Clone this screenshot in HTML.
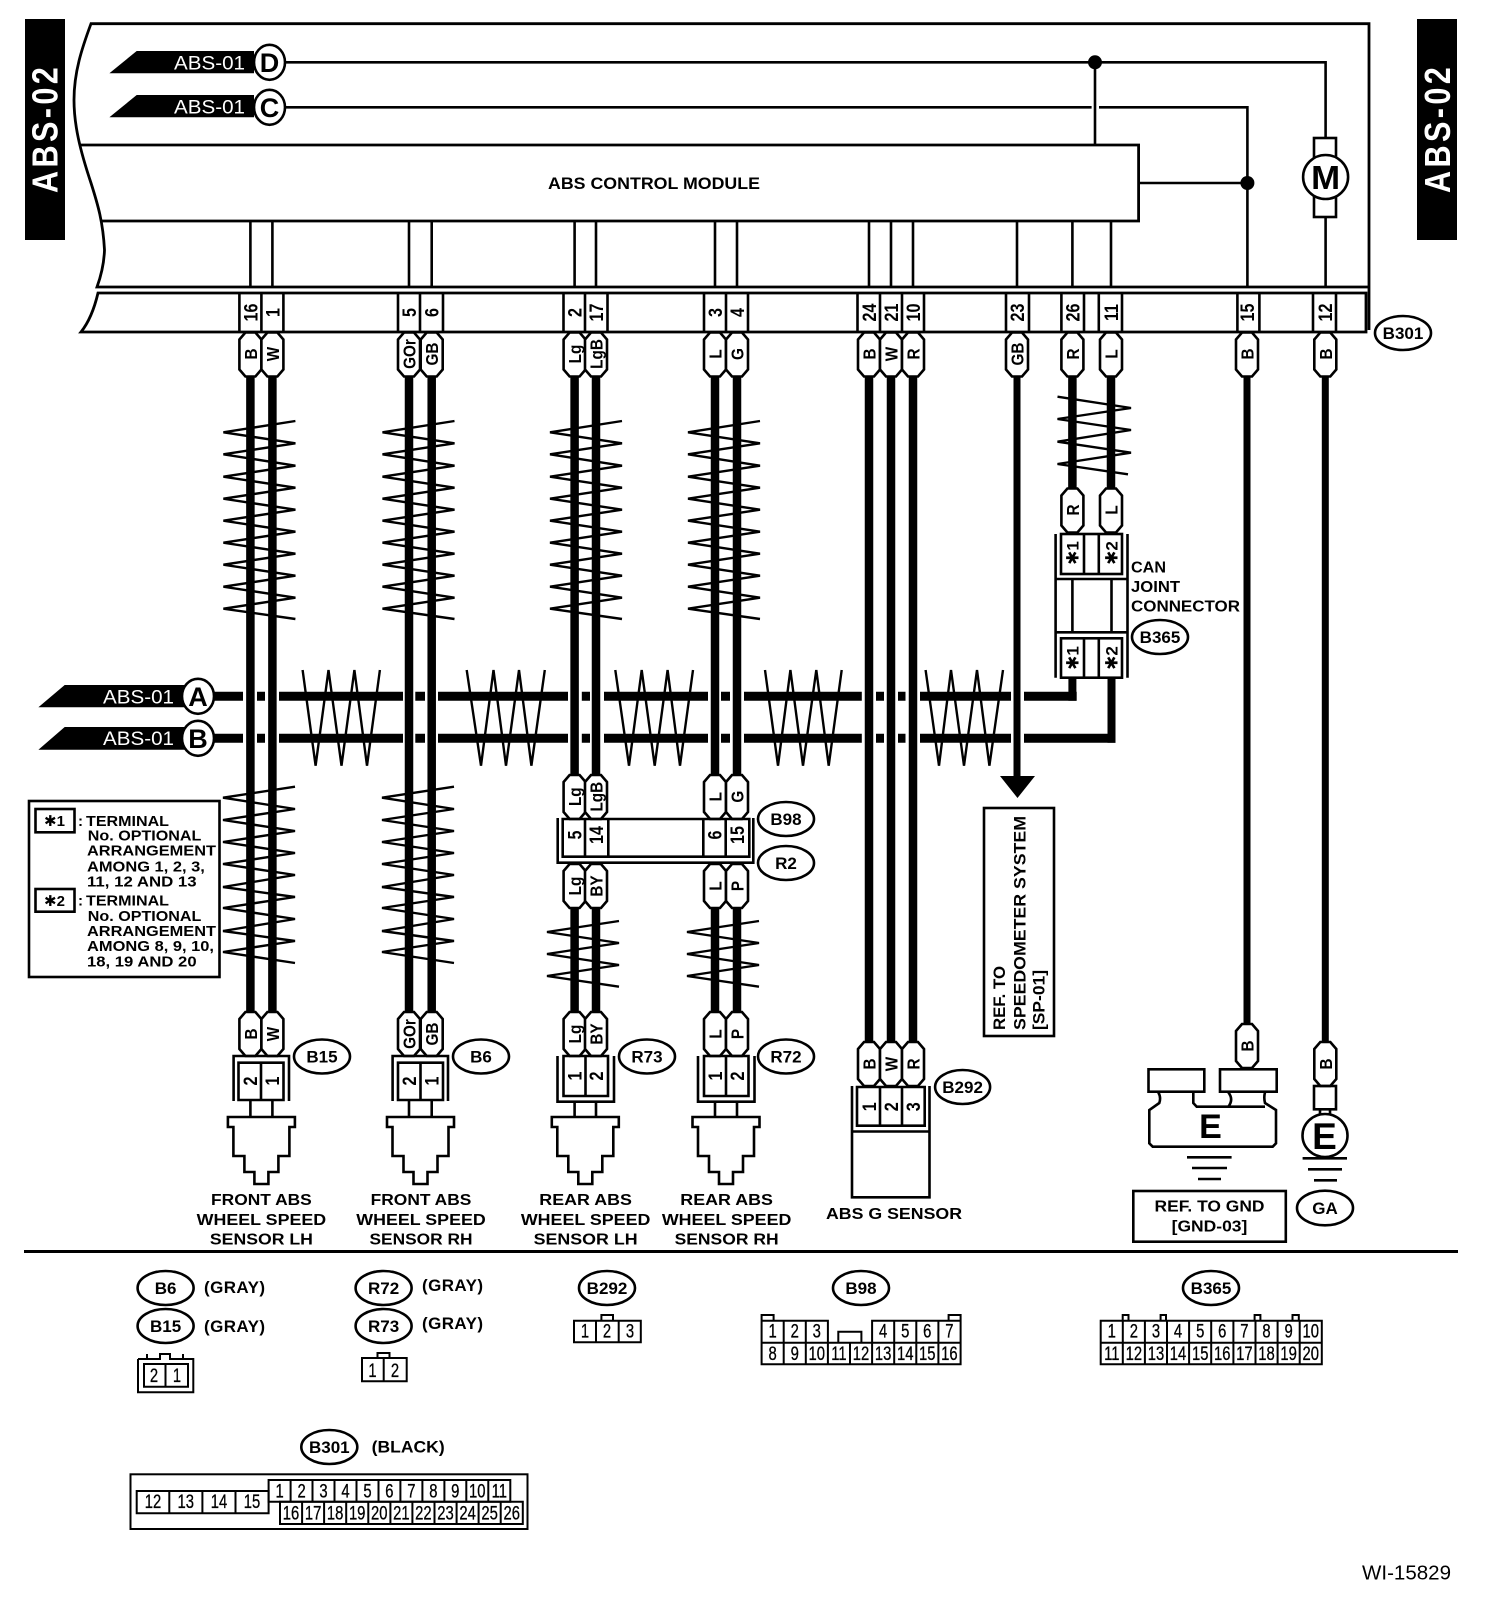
<!DOCTYPE html>
<html lang="en"><head><meta charset="utf-8"><title>ABS wiring diagram</title>
<style>
html,body{margin:0;padding:0;background:#fff}
svg{display:block;font-family:"Liberation Sans",sans-serif}
.l{fill:none;stroke:#000;stroke-width:2.6}
.s{fill:none;stroke:#000;stroke-width:2}
.o{fill:#fff;stroke:#000;stroke-width:2.6}
.t{fill:none;stroke:#000;stroke-width:2.4}
text{fill:#000}
.w{fill:#fff}
.b{font-weight:bold}
.m{text-anchor:middle}
.p{font-weight:bold;font-size:18px;text-anchor:middle}
.tn{font-weight:bold;font-size:19px;text-anchor:middle}
.ov{font-weight:bold;font-size:17px;text-anchor:middle}
.lb{font-weight:bold;font-size:16px;text-anchor:middle}
.lg{font-weight:bold;font-size:15px}
.g{font-weight:bold;font-size:17px}
.n{font-size:19px;text-anchor:middle;stroke:#000;stroke-width:.3;transform-box:fill-box;transform-origin:center;transform:scaleX(.78)}
.st{font-family:"DejaVu Sans",sans-serif}
</style></head><body>
<svg xmlns="http://www.w3.org/2000/svg" width="1504" height="1604" viewBox="0 0 1504 1604">
<defs>
<polyline id="t1" class="t" points="34,421 -38,432.3 34,443.3 -38,454.3 34,465.7 -38,476.7 34,487.7 -38,498.7 34,509.7 -38,520.7 34,531.7 -38,542.7 34,553.7 -38,564.7 34,575.7 -38,586.7 34,597.7 -38,608.7 34,619"/>
<polyline id="t2" class="t" points="34,786.7 -38,797.7 34,809 -38,820 34,831 -38,842 34,853 -38,864 34,875 -38,887 34,897 -38,908 34,919 -38,931 34,941 -38,952 34,963"/>
<polyline id="t3" class="t" points="36,921 -36,932 36,943 -36,954 36,965 -36,976 36,986.7"/>
<path id="pin" d="M-5,0 L5,0 L11,7 V37 L5,44 H-5 L-11,37 V7 Z" fill="#fff" stroke="#000" stroke-width="2.6"/>
<path id="sen" class="l" d="M-33.5,1117 H33.5 V1127 H28 V1156 H17 V1172 H7 V1184 H-7 V1172 H-17 V1156 H-28 V1127 H-33.5 Z"/>
</defs>

<!-- side tabs -->
<rect x="25" y="19" width="40" height="221" fill="#000"/>
<rect x="1417" y="19" width="40" height="221" fill="#000"/>
<text class="w b" font-size="36" letter-spacing="4" transform="matrix(0,-.85,1,0,57.5,193)">ABS-02</text>
<text class="w b" font-size="36" letter-spacing="4" transform="matrix(0,-.85,1,0,1450,193)">ABS-02</text>

<!-- frame -->
<path class="l" style="stroke-width:2.8" d="M1369 330 V23.7 H91 C82 48 74 72 74 100 C74 125 80 150 91 183 C98 205 103 222 104.5 250 C104 264 101 276 97 287 H1369"/>
<path class="l" style="stroke-width:2.8" d="M98 293 H1366 V332 H81 C89 322 94 310 98 293 Z"/>
<path class="l" style="stroke-width:2.8" d="M81 145 H1138.6 V221 H102"/>
<text class="b" font-size="17" x="548" y="189" textLength="212" lengthAdjust="spacingAndGlyphs">ABS CONTROL MODULE</text>

<!-- thin wires in module -->
<path class="l" d="M250.4 221V287M272.4 221V287M409 221V287M431.7 221V287M574.6 221V287M596 221V287M715 221V287M737 221V287M869 221V287M891 221V287M913 221V287M1017 221V287M1072.4 221V287M1111 221V287"/>
<path class="l" d="M285 62.3 H1325.6 V138 M285 107.3 H1091.6 M1099 107.3 H1247.4 V287 M1095 62.3 V145 M1138.6 183 H1247.4 M1325.6 217 V287"/>
<ellipse cx="1095" cy="62.3" rx="7" ry="7"/><ellipse cx="1247.4" cy="183" rx="7" ry="7"/>
<rect class="o" x="1314" y="138" width="22" height="79"/>
<ellipse class="o" cx="1325.6" cy="177" rx="22.5" ry="22"/>
<text class="b m" font-size="33" x="1325.6" y="189" textLength="29" lengthAdjust="spacingAndGlyphs">M</text>

<!-- tags -->
<polygon points="109.4,73.3 136.7,51 254,51 254,73.3"/>
<polygon points="109.4,117.3 136.7,95 254,95 254,117.3"/>
<polygon points="38.4,707.3 64.7,685 187,685 187,707.3"/>
<polygon points="38.4,749.7 64.7,727 187,727 187,749.7"/>
<text class="w" font-size="19" x="174" y="69.3" textLength="71" lengthAdjust="spacingAndGlyphs">ABS-01</text>
<text class="w" font-size="19" x="174" y="113.3" textLength="71" lengthAdjust="spacingAndGlyphs">ABS-01</text>
<text class="w" font-size="19" x="103" y="703.3" textLength="71" lengthAdjust="spacingAndGlyphs">ABS-01</text>
<text class="w" font-size="19" x="103" y="745" textLength="71" lengthAdjust="spacingAndGlyphs">ABS-01</text>
<ellipse class="o" cx="269.5" cy="62.3" rx="15.5" ry="17.5"/>
<ellipse class="o" cx="269.5" cy="107.3" rx="15.5" ry="17.5"/>
<ellipse class="o" cx="198" cy="696.3" rx="16" ry="17.5"/>
<ellipse class="o" cx="198" cy="738.3" rx="16" ry="17.5"/>
<text class="b m" font-size="27" x="269.5" y="72">D</text>
<text class="b m" font-size="27" x="269.5" y="117">C</text>
<text class="b m" font-size="27" x="198" y="706">A</text>
<text class="b m" font-size="27" x="198" y="748">B</text>

<!-- terminal dividers -->
<path class="l" d="M239.4 293V332M261.4 293V332M283.4 293V332M398 293V332M420 293V332M443 293V332M563.5 293V332M585 293V332M607.5 293V332M704 293V332M726 293V332M748 293V332M857.5 293V332M880 293V332M902 293V332M924 293V332M1006 293V332M1029 293V332M1061.4 293V332M1084 293V332M1098.8 293V332M1122 293V332M1237.4 293V332M1259.4 293V332M1313 293V332M1336 293V332"/>
<text class="tn" transform="matrix(0,-.85,1,0,257.4,312.5)">16</text>
<text class="tn" transform="matrix(0,-.85,1,0,279.4,312.5)">1</text>
<text class="tn" transform="matrix(0,-.85,1,0,416,312.5)">5</text>
<text class="tn" transform="matrix(0,-.85,1,0,438.7,312.5)">6</text>
<text class="tn" transform="matrix(0,-.85,1,0,581.6,312.5)">2</text>
<text class="tn" transform="matrix(0,-.85,1,0,603,312.5)">17</text>
<text class="tn" transform="matrix(0,-.85,1,0,722,312.5)">3</text>
<text class="tn" transform="matrix(0,-.85,1,0,744,312.5)">4</text>
<text class="tn" transform="matrix(0,-.85,1,0,876,312.5)">24</text>
<text class="tn" transform="matrix(0,-.85,1,0,898,312.5)">21</text>
<text class="tn" transform="matrix(0,-.85,1,0,920,312.5)">10</text>
<text class="tn" transform="matrix(0,-.85,1,0,1024,312.5)">23</text>
<text class="tn" transform="matrix(0,-.85,1,0,1079.4,312.5)">26</text>
<text class="tn" transform="matrix(0,-.85,1,0,1118,312.5)">11</text>
<text class="tn" transform="matrix(0,-.85,1,0,1254,312.5)">15</text>
<text class="tn" transform="matrix(0,-.85,1,0,1332,312.5)">12</text>
<ellipse class="o" cx="1403" cy="333" rx="28" ry="17"/>
<text class="ov" x="1403" y="339">B301</text>

<!-- twists -->
<use href="#t1" x="261.4"/><use href="#t1" x="420.5"/><use href="#t1" x="588"/><use href="#t1" x="726"/>
<use href="#t2" x="261"/><use href="#t2" x="420"/>
<use href="#t3" x="583"/><use href="#t3" x="723"/>
<polyline class="t" points="1057.5,396.7 1131,408 1057.5,419 1131,430 1057.5,441.7 1131,452.7 1057.5,464 1128,474.3"/>
<polyline class="t" points="302.6,670 315.6,765.7 328.5,670 341.5,765.7 354.4,670 367,765.7 379.9,670"/>
<polyline class="t" points="466.7,670 481,765.7 493.5,670 506,765.7 519,670 531.4,765.7 544.8,670"/>
<polyline class="t" points="615.3,670 629,765.7 641.7,670 654.7,765.7 667.6,670 680,765.7 693,670"/>
<polyline class="t" points="765,670 778,765.7 790.4,670 803,765.7 816.3,670 828.7,765.7 841.7,670"/>
<polyline class="t" points="925.6,670 939,765.7 951,670 964,765.7 977,670 989.4,765.7 1003,670"/>

<!-- thick wires -->
<path fill="none" stroke="#000" stroke-width="8.5" d="M250.4 377V1012M272.4 377V1012M409 377V1012M431.7 377V1012M574.6 377V775M596 377V775M715 377V775M737 377V775M574.6 908V1012M596 908V1012M715 908V1012M737 908V1012M869 377V1042M891 377V1042M913 377V1042M1072.4 377V489M1111 377V489"/>
<path fill="none" stroke="#000" stroke-width="7" d="M1017 377V780M1247 377V1024M1325.3 377V1042"/>
<path fill="none" stroke="#000" stroke-width="9" d="M213 696.3H243M257 696.3H265M279 696.3H403M415.3 696.3H425M438 696.3H568M581.8 696.3H590M604 696.3H708M721 696.3H730M744 696.3H861.8M876 696.3H884M898 696.3H905.5M920 696.3H1011M1024 696.3H1076.7M213 738.3H243M257 738.3H265M279 738.3H403M415.3 738.3H425M438 738.3H568M581.8 738.3H590M604 738.3H708M721 738.3H730M744 738.3H861.8M876 738.3H884M898 738.3H905.5M920 738.3H1011M1024 738.3H1115.5"/>
<path fill="none" stroke="#000" stroke-width="8" d="M1072.4 700.8V677M1111.5 742.8V677"/>
<polygon points="1000,776 1035,776 1017.5,798"/>

<!-- pins top -->
<use href="#pin" x="250.4" y="332.5"/><use href="#pin" x="272.4" y="332.5"/><use href="#pin" x="409" y="332.5"/><use href="#pin" x="431.7" y="332.5"/><use href="#pin" x="574.6" y="332.5"/><use href="#pin" x="596" y="332.5"/><use href="#pin" x="715" y="332.5"/><use href="#pin" x="737" y="332.5"/><use href="#pin" x="869" y="332.5"/><use href="#pin" x="891" y="332.5"/><use href="#pin" x="913" y="332.5"/><use href="#pin" x="1017" y="332.5"/><use href="#pin" x="1072.4" y="332.5"/><use href="#pin" x="1111" y="332.5"/><use href="#pin" x="1247" y="332.5"/><use href="#pin" x="1325.3" y="332.5"/>
<text class="p" transform="matrix(0,-.85,1,0,256.9,354)">B</text>
<text class="p" transform="matrix(0,-.85,1,0,278.9,354)">W</text>
<text class="p" transform="matrix(0,-.85,1,0,415.5,354)">GOr</text>
<text class="p" transform="matrix(0,-.85,1,0,438.2,354)">GB</text>
<text class="p" transform="matrix(0,-.85,1,0,581.1,354)">Lg</text>
<text class="p" transform="matrix(0,-.85,1,0,602.5,354)">LgB</text>
<text class="p" transform="matrix(0,-.85,1,0,721.5,354)">L</text>
<text class="p" transform="matrix(0,-.85,1,0,743.5,354)">G</text>
<text class="p" transform="matrix(0,-.85,1,0,875.5,354)">B</text>
<text class="p" transform="matrix(0,-.85,1,0,897.5,354)">W</text>
<text class="p" transform="matrix(0,-.85,1,0,919.5,354)">R</text>
<text class="p" transform="matrix(0,-.85,1,0,1023.5,354)">GB</text>
<text class="p" transform="matrix(0,-.85,1,0,1078.9,354)">R</text>
<text class="p" transform="matrix(0,-.85,1,0,1117.5,354)">L</text>
<text class="p" transform="matrix(0,-.85,1,0,1253.5,354)">B</text>
<text class="p" transform="matrix(0,-.85,1,0,1331.8,354)">B</text>

<!-- CAN joint -->
<use href="#pin" x="1072.4" y="488.5"/><use href="#pin" x="1111" y="488.5"/>
<text class="p" transform="matrix(0,-.85,1,0,1078.9,510)">R</text>
<text class="p" transform="matrix(0,-.85,1,0,1117.5,510)">L</text>
<path class="l" d="M1055.6 534V677.7M1127.5 534V677.7M1055.6 579H1127.5M1055.6 632.3H1127.5M1072.4 579V632.3M1111.5 579V632.3"/>
<rect class="o" x="1061" y="534" width="61" height="40"/>
<rect class="o" x="1061" y="638.3" width="61" height="39.4"/>
<path class="l" d="M1084 534V574M1098.8 534V574M1084 638.3V677.7M1098.8 638.3V677.7"/>
<text class="m b" font-size="17" transform="matrix(0,-1,1,0,1078.5,553)"><tspan class="st">✱</tspan>1</text>
<text class="m b" font-size="17" transform="matrix(0,-1,1,0,1117.5,553)"><tspan class="st">✱</tspan>2</text>
<text class="m b" font-size="17" transform="matrix(0,-1,1,0,1078.5,658)"><tspan class="st">✱</tspan>1</text>
<text class="m b" font-size="17" transform="matrix(0,-1,1,0,1117.5,658)"><tspan class="st">✱</tspan>2</text>
<text class="b" font-size="16" x="1131" y="572.7" textLength="35" lengthAdjust="spacingAndGlyphs">CAN</text>
<text class="b" font-size="16" x="1131" y="592" textLength="49" lengthAdjust="spacingAndGlyphs">JOINT</text>
<text class="b" font-size="16" x="1131" y="611.7" textLength="109" lengthAdjust="spacingAndGlyphs">CONNECTOR</text>
<ellipse class="o" cx="1160" cy="637" rx="28" ry="17"/><text class="ov" x="1160" y="643">B365</text>

<!-- B98 / R2 inline connector -->
<use href="#pin" x="574.6" y="775"/><use href="#pin" x="596" y="775"/><use href="#pin" x="715" y="775"/><use href="#pin" x="737" y="775"/>
<text class="p" transform="matrix(0,-.85,1,0,581.1,796.7)">Lg</text>
<text class="p" transform="matrix(0,-.85,1,0,602.5,796.7)">LgB</text>
<text class="p" transform="matrix(0,-.85,1,0,721.5,796.7)">L</text>
<text class="p" transform="matrix(0,-.85,1,0,743.5,796.7)">G</text>
<path class="l" d="M557.7 818V862.7H753.3V818M562.7 819H749.3V856.7H562.7ZM585 819V856.7M608.3 819V856.7M703.3 819V856.7M725.7 819V856.7"/>
<text class="tn" transform="matrix(0,-.85,1,0,581.4,835)">5</text>
<text class="tn" transform="matrix(0,-.85,1,0,603,835)">14</text>
<text class="tn" transform="matrix(0,-.85,1,0,721.5,835)">6</text>
<text class="tn" transform="matrix(0,-.85,1,0,744,835)">15</text>
<use href="#pin" x="574.6" y="864"/><use href="#pin" x="596" y="864"/><use href="#pin" x="715" y="864"/><use href="#pin" x="737" y="864"/>
<text class="p" transform="matrix(0,-.85,1,0,581.1,886)">Lg</text>
<text class="p" transform="matrix(0,-.85,1,0,602.5,886)">BY</text>
<text class="p" transform="matrix(0,-.85,1,0,721.5,886)">L</text>
<text class="p" transform="matrix(0,-.85,1,0,743.5,886)">P</text>
<ellipse class="o" cx="786" cy="819" rx="28" ry="17"/><text class="ov" x="786" y="825">B98</text>
<ellipse class="o" cx="786" cy="863" rx="28" ry="17"/><text class="ov" x="786" y="869">R2</text>

<!-- legend -->
<rect class="l" x="29" y="801" width="190.5" height="176"/>
<rect class="l" x="35.5" y="809" width="39" height="23.3"/>
<rect class="l" x="35.5" y="889" width="39" height="22.7"/>
<text class="lg" x="44" y="826"><tspan class="st">✱</tspan>1</text>
<text class="lg" x="44" y="906"><tspan class="st">✱</tspan>2</text>
<text class="lg" x="78" y="826">:</text>
<text class="lg" x="86" y="826" textLength="83" lengthAdjust="spacingAndGlyphs">TERMINAL</text>
<text class="lg" x="87.8" y="840.6" textLength="113.6" lengthAdjust="spacingAndGlyphs">No. OPTIONAL</text>
<text class="lg" x="87" y="855.7" textLength="129" lengthAdjust="spacingAndGlyphs">ARRANGEMENT</text>
<text class="lg" x="87" y="871.7" textLength="117.8" lengthAdjust="spacingAndGlyphs">AMONG 1, 2, 3,</text>
<text class="lg" x="87" y="886.7" textLength="109.6" lengthAdjust="spacingAndGlyphs">11, 12 AND 13</text>
<text class="lg" x="78" y="905.7">:</text>
<text class="lg" x="86" y="905.7" textLength="83" lengthAdjust="spacingAndGlyphs">TERMINAL</text>
<text class="lg" x="87.8" y="921" textLength="113.6" lengthAdjust="spacingAndGlyphs">No. OPTIONAL</text>
<text class="lg" x="87" y="936" textLength="129" lengthAdjust="spacingAndGlyphs">ARRANGEMENT</text>
<text class="lg" x="87" y="951" textLength="127" lengthAdjust="spacingAndGlyphs">AMONG 8, 9, 10,</text>
<text class="lg" x="87" y="966.7" textLength="109.6" lengthAdjust="spacingAndGlyphs">18, 19 AND 20</text>

<!-- sensor connectors -->
<use href="#pin" x="250.4" y="1012"/><use href="#pin" x="272.4" y="1012"/><use href="#pin" x="409" y="1012"/><use href="#pin" x="431.7" y="1012"/><use href="#pin" x="574.6" y="1012"/><use href="#pin" x="596" y="1012"/><use href="#pin" x="715" y="1012"/><use href="#pin" x="737" y="1012"/>
<text class="p" transform="matrix(0,-.85,1,0,256.9,1034)">B</text>
<text class="p" transform="matrix(0,-.85,1,0,278.9,1034)">W</text>
<text class="p" transform="matrix(0,-.85,1,0,415.5,1034)">GOr</text>
<text class="p" transform="matrix(0,-.85,1,0,438.2,1034)">GB</text>
<text class="p" transform="matrix(0,-.85,1,0,581.1,1034)">Lg</text>
<text class="p" transform="matrix(0,-.85,1,0,602.5,1034)">BY</text>
<text class="p" transform="matrix(0,-.85,1,0,721.5,1034)">L</text>
<text class="p" transform="matrix(0,-.85,1,0,743.5,1034)">P</text>
<path class="l" d="M233.6 1101V1056H289V1101M238.5 1062.7H283.5V1100H238.5ZM261 1062.7V1100M250.4 1101V1117M272.4 1101V1117"/>
<path class="l" d="M392.6 1101V1056H448V1101M398 1062.7H443V1100H398ZM420.5 1062.7V1100M409 1101V1117M431.7 1101V1117"/>
<path class="l" d="M557.5 1056V1101.7H614V1056M563.5 1056H608V1096H563.5ZM585.5 1056V1096M574.6 1101.7V1117M596 1101.7V1117"/>
<path class="l" d="M698 1056V1101.7H754.5V1056M704 1056H748.5V1096H704ZM726 1056V1096M715 1101.7V1117M737 1101.7V1117"/>
<text class="tn" transform="matrix(0,-.85,1,0,257,1081)">2</text>
<text class="tn" transform="matrix(0,-.85,1,0,279,1081)">1</text>
<text class="tn" transform="matrix(0,-.85,1,0,416,1081)">2</text>
<text class="tn" transform="matrix(0,-.85,1,0,438.5,1081)">1</text>
<text class="tn" transform="matrix(0,-.85,1,0,581.5,1076)">1</text>
<text class="tn" transform="matrix(0,-.85,1,0,603,1076)">2</text>
<text class="tn" transform="matrix(0,-.85,1,0,722,1076)">1</text>
<text class="tn" transform="matrix(0,-.85,1,0,744,1076)">2</text>
<use href="#sen" x="261.4"/><use href="#sen" x="420.5"/><use href="#sen" x="585.3"/><use href="#sen" x="726"/>
<ellipse class="o" cx="322" cy="1056.5" rx="28" ry="17"/><text class="ov" x="322" y="1062.5">B15</text>
<ellipse class="o" cx="481" cy="1056.5" rx="28" ry="17"/><text class="ov" x="481" y="1062.5">B6</text>
<ellipse class="o" cx="647" cy="1056.5" rx="28" ry="17"/><text class="ov" x="647" y="1062.5">R73</text>
<ellipse class="o" cx="786" cy="1056.5" rx="28" ry="17"/><text class="ov" x="786" y="1062.5">R72</text>
<text class="lb" x="261.4" y="1205" textLength="100.7" lengthAdjust="spacingAndGlyphs">FRONT ABS</text>
<text class="lb" x="261.4" y="1225" textLength="129.5" lengthAdjust="spacingAndGlyphs">WHEEL SPEED</text>
<text class="lb" x="261.4" y="1244.3" textLength="103" lengthAdjust="spacingAndGlyphs">SENSOR LH</text>
<text class="lb" x="421" y="1205" textLength="100.7" lengthAdjust="spacingAndGlyphs">FRONT ABS</text>
<text class="lb" x="421" y="1225" textLength="129.5" lengthAdjust="spacingAndGlyphs">WHEEL SPEED</text>
<text class="lb" x="421" y="1244.3" textLength="103" lengthAdjust="spacingAndGlyphs">SENSOR RH</text>
<text class="lb" x="585.6" y="1205" textLength="92.6" lengthAdjust="spacingAndGlyphs">REAR ABS</text>
<text class="lb" x="585.6" y="1225" textLength="129.5" lengthAdjust="spacingAndGlyphs">WHEEL SPEED</text>
<text class="lb" x="585.6" y="1244.3" textLength="104" lengthAdjust="spacingAndGlyphs">SENSOR LH</text>
<text class="lb" x="726.6" y="1205" textLength="92.6" lengthAdjust="spacingAndGlyphs">REAR ABS</text>
<text class="lb" x="726.6" y="1225" textLength="129.5" lengthAdjust="spacingAndGlyphs">WHEEL SPEED</text>
<text class="lb" x="726.6" y="1244.3" textLength="104" lengthAdjust="spacingAndGlyphs">SENSOR RH</text>

<!-- G sensor -->
<use href="#pin" x="869" y="1042"/><use href="#pin" x="891" y="1042"/><use href="#pin" x="913" y="1042"/>
<text class="p" transform="matrix(0,-.85,1,0,875.5,1064)">B</text>
<text class="p" transform="matrix(0,-.85,1,0,897.5,1064)">W</text>
<text class="p" transform="matrix(0,-.85,1,0,919.5,1064)">R</text>
<path class="l" d="M852 1086V1197.3H929.5V1086M852 1131.5H929.5M857 1087H924.7V1125.7H857ZM880 1087V1125.7M902 1087V1125.7"/>
<text class="tn" transform="matrix(0,-.85,1,0,876,1106.7)">1</text>
<text class="tn" transform="matrix(0,-.85,1,0,898,1106.7)">2</text>
<text class="tn" transform="matrix(0,-.85,1,0,920,1106.7)">3</text>
<ellipse class="o" cx="962.6" cy="1087" rx="27.5" ry="17"/><text class="ov" x="962.6" y="1093">B292</text>
<text class="lb" x="894" y="1219" textLength="136" lengthAdjust="spacingAndGlyphs">ABS G SENSOR</text>

<!-- speedometer ref -->
<rect class="l" x="984" y="808" width="70" height="228"/>
<text class="b" font-size="17" transform="matrix(0,-1,1,0,1004.8,1030)" textLength="64" lengthAdjust="spacingAndGlyphs">REF. TO</text>
<text class="b" font-size="17" transform="matrix(0,-1,1,0,1025.4,1030)" textLength="214" lengthAdjust="spacingAndGlyphs">SPEEDOMETER SYSTEM</text>
<text class="b" font-size="17" transform="matrix(0,-1,1,0,1044.6,1030)" textLength="60" lengthAdjust="spacingAndGlyphs">[SP-01]</text>

<!-- ground E -->
<use href="#pin" x="1247" y="1024"/>
<text class="p" transform="matrix(0,-.85,1,0,1253.5,1046)">B</text>
<rect class="l" x="1148.5" y="1069.3" width="55.8" height="22.4"/>
<rect class="l" x="1220" y="1069.3" width="56.7" height="22.4"/>
<path class="l" d="M1158.3 1092.3 C1161 1097 1160 1101 1159.3 1103 L1149.3 1110 V1143.3 L1152.7 1146.7 H1272.7 L1276 1143.3 V1110 L1265 1103 C1264 1099 1264 1096 1265 1092.3 M1193.3 1092.3 V1103 L1196.7 1106.7 H1265 M1228.3 1106.7 C1232 1102 1232 1097 1228.3 1092.3"/>
<text class="b m" font-size="34" x="1210.5" y="1138">E</text>
<path class="l" d="M1187 1157.3H1231.6M1192 1168H1227M1198 1179H1221"/>
<rect class="l" x="1133.3" y="1191" width="152.5" height="50.7"/>
<text class="lb" x="1209.5" y="1211.7" textLength="110" lengthAdjust="spacingAndGlyphs">REF. TO GND</text>
<text class="lb" x="1209.5" y="1231.7" textLength="75.7" lengthAdjust="spacingAndGlyphs">[GND-03]</text>

<!-- ground GA -->
<use href="#pin" x="1325.3" y="1042"/>
<text class="p" transform="matrix(0,-.85,1,0,1331.8,1064)">B</text>
<rect class="l" x="1314" y="1086" width="22" height="23.3"/>
<path class="l" d="M1320 1109V1115M1330 1109V1115"/>
<ellipse class="o" cx="1325" cy="1135.5" rx="22.5" ry="21.5"/>
<text class="b m" font-size="37" x="1324.5" y="1149">E</text>
<path class="l" d="M1302.6 1158.3H1347M1308 1169.3H1342M1314 1180.3H1337"/>
<ellipse class="o" cx="1325" cy="1208" rx="28" ry="17.3"/><text class="ov" x="1325" y="1214">GA</text>

<!-- divider -->
<rect x="24" y="1250" width="1434" height="3"/>

<!-- bottom legend -->
<ellipse class="o" cx="165.6" cy="1288" rx="28" ry="17"/><text class="ov" x="165.6" y="1294">B6</text>
<ellipse class="o" cx="165.6" cy="1326" rx="28" ry="17"/><text class="ov" x="165.6" y="1332">B15</text>
<text class="g" x="204" y="1293" textLength="61">(GRAY)</text><text class="g" x="204" y="1332" textLength="61">(GRAY)</text>
<ellipse class="o" cx="383.6" cy="1288" rx="28" ry="17"/><text class="ov" x="383.6" y="1294">R72</text>
<ellipse class="o" cx="383.6" cy="1326" rx="28" ry="17"/><text class="ov" x="383.6" y="1332">R73</text>
<text class="g" x="422" y="1291" textLength="61">(GRAY)</text><text class="g" x="422" y="1329" textLength="61">(GRAY)</text>
<ellipse class="o" cx="607" cy="1288" rx="28" ry="17"/><text class="ov" x="607" y="1294">B292</text>
<ellipse class="o" cx="861" cy="1288" rx="28" ry="17"/><text class="ov" x="861" y="1294">B98</text>
<ellipse class="o" cx="1211" cy="1288" rx="28" ry="17"/><text class="ov" x="1211" y="1294">B365</text>
<ellipse class="o" cx="329.3" cy="1447" rx="28" ry="17"/><text class="ov" x="329.3" y="1453">B301</text>
<text class="g" x="371.7" y="1452.7" textLength="73" lengthAdjust="spacingAndGlyphs">(BLACK)</text>

<!-- connector 2-1 -->
<path class="s" d="M138 1359V1392.3H193.3V1359H170V1354H160V1359H138M147 1359V1354M183 1359V1354M144 1364H188V1386.7H144ZM165.5 1364V1386.7"/>
<text class="n" x="154" y="1382">2</text><text class="n" x="177" y="1382">1</text>
<!-- connector 1-2 -->
<path class="s" d="M362 1358H406.7V1381.3H362ZM383.7 1358V1381.3M377.5 1358V1353H389.5V1358"/>
<text class="n" x="372.5" y="1377">1</text><text class="n" x="395" y="1377">2</text>
<!-- B292 conn -->
<path class="s" d="M574 1320.7H640.8V1342.3H574ZM596 1320.7V1342.3M618.7 1320.7V1342.3M601.4 1320.7V1315H613V1320.7"/>
<text class="n" x="585" y="1337.7">1</text><text class="n" x="607" y="1337.7">2</text><text class="n" x="630" y="1337.7">3</text>

<!-- B98 conn -->
<path class="s" d="M761.6 1342.7V1320.7H827.9V1342.7M783.7 1320.7V1364.3M805.8 1320.7V1364.3M827.9 1342.7V1364.3M850 1342.7V1364.3M872.1 1342.7V1320.7H960.6V1342.7M894.2 1320.7V1364.3M916.3 1320.7V1364.3M938.4 1320.7V1364.3M872.1 1342.7V1364.3M761.6 1342.7H960.6V1364.3H761.6ZM838.3 1342.7V1331.7H861.4V1342.7M761.6 1320.7V1315H773.6V1320.7M948.6 1320.7V1315H960.6V1320.7"/>
<text class="n" x="772.6" y="1337.7">1</text><text class="n" x="794.7" y="1337.7">2</text><text class="n" x="816.8" y="1337.7">3</text><text class="n" x="883.1" y="1337.7">4</text><text class="n" x="905.2" y="1337.7">5</text><text class="n" x="927.3" y="1337.7">6</text><text class="n" x="949.4" y="1337.7">7</text>
<text class="n" x="772.6" y="1360">8</text><text class="n" x="794.7" y="1360">9</text><text class="n" x="816.8" y="1360">10</text><text class="n" x="838.9" y="1360">11</text><text class="n" x="861" y="1360">12</text><text class="n" x="883.1" y="1360">13</text><text class="n" x="905.2" y="1360">14</text><text class="n" x="927.3" y="1360">15</text><text class="n" x="949.4" y="1360">16</text>

<!-- B365 conn -->
<path class="s" d="M1100.7 1320.7H1321.8V1364.3H1100.7ZM1100.7 1342.7H1321.8M1122.8 1320.7V1364.3M1144.9 1320.7V1364.3M1167 1320.7V1364.3M1189.1 1320.7V1364.3M1211.2 1320.7V1364.3M1233.4 1320.7V1364.3M1255.5 1320.7V1364.3M1277.6 1320.7V1364.3M1299.7 1320.7V1364.3M1122.7 1320.7V1315H1128.5V1320.7M1160.6 1320.7V1315H1166V1320.7M1254.6 1320.7V1315H1260.4V1320.7M1292.5 1320.7V1315H1298.8V1320.7"/>
<text class="n" x="1111.8" y="1337.7">1</text><text class="n" x="1133.9" y="1337.7">2</text><text class="n" x="1156" y="1337.7">3</text><text class="n" x="1178" y="1337.7">4</text><text class="n" x="1200.2" y="1337.7">5</text><text class="n" x="1222.3" y="1337.7">6</text><text class="n" x="1244.4" y="1337.7">7</text><text class="n" x="1266.5" y="1337.7">8</text><text class="n" x="1288.6" y="1337.7">9</text><text class="n" x="1310.8" y="1337.7">10</text>
<text class="n" x="1111.8" y="1360">11</text><text class="n" x="1133.9" y="1360">12</text><text class="n" x="1156" y="1360">13</text><text class="n" x="1178" y="1360">14</text><text class="n" x="1200.2" y="1360">15</text><text class="n" x="1222.3" y="1360">16</text><text class="n" x="1244.4" y="1360">17</text><text class="n" x="1266.5" y="1360">18</text><text class="n" x="1288.6" y="1360">19</text><text class="n" x="1310.8" y="1360">20</text>

<!-- B301 conn -->
<rect class="s" x="130.5" y="1474.3" width="397" height="54.7"/>
<path class="s" d="M136.7 1491H268.6V1513.3H136.7ZM169.3 1491V1513.3M202.4 1491V1513.3M235.5 1491V1513.3"/>
<path class="s" d="M268.6 1480H510.3V1501.7H268.6ZM290.6 1480V1501.7M312.5 1480V1501.7M334.5 1480V1501.7M356.5 1480V1501.7M378.5 1480V1501.7M400.4 1480V1501.7M422.4 1480V1501.7M444.4 1480V1501.7M466.3 1480V1501.7M488.3 1480V1501.7"/>
<path class="s" d="M280 1501.7H522.8V1524H280ZM302.1 1501.7V1524M324.1 1501.7V1524M346.2 1501.7V1524M368.3 1501.7V1524M390.4 1501.7V1524M412.4 1501.7V1524M434.5 1501.7V1524M456.6 1501.7V1524M478.6 1501.7V1524M500.7 1501.7V1524"/>
<text class="n" x="153" y="1508">12</text><text class="n" x="185.8" y="1508">13</text><text class="n" x="219" y="1508">14</text><text class="n" x="252" y="1508">15</text>
<text class="n" x="279.6" y="1497.3">1</text><text class="n" x="301.6" y="1497.3">2</text><text class="n" x="323.5" y="1497.3">3</text><text class="n" x="345.5" y="1497.3">4</text><text class="n" x="367.5" y="1497.3">5</text><text class="n" x="389.4" y="1497.3">6</text><text class="n" x="411.4" y="1497.3">7</text><text class="n" x="433.4" y="1497.3">8</text><text class="n" x="455.3" y="1497.3">9</text><text class="n" x="477.3" y="1497.3">10</text><text class="n" x="499.3" y="1497.3">11</text>
<text class="n" x="291" y="1519.3">16</text><text class="n" x="313.1" y="1519.3">17</text><text class="n" x="335.1" y="1519.3">18</text><text class="n" x="357.2" y="1519.3">19</text><text class="n" x="379.3" y="1519.3">20</text><text class="n" x="401.4" y="1519.3">21</text><text class="n" x="423.4" y="1519.3">22</text><text class="n" x="445.5" y="1519.3">23</text><text class="n" x="467.6" y="1519.3">24</text><text class="n" x="489.6" y="1519.3">25</text><text class="n" x="511.7" y="1519.3">26</text>

<text font-size="20" x="1362" y="1579.3" textLength="89" lengthAdjust="spacingAndGlyphs">WI-15829</text>
</svg>
</body></html>
